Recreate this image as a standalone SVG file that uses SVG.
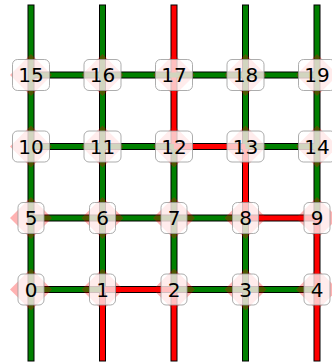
<svg xmlns="http://www.w3.org/2000/svg" width="332" height="364" viewBox="0 0 332 364">
<style>
.o{stroke:#000;stroke-width:7;fill:none}
.g{stroke:#008000;stroke-width:5;fill:none}
.r{stroke:#ff0000;stroke-width:5;fill:none}
.d{fill:#ff0000;fill-opacity:0.3}
.b{fill:#fff;fill-opacity:0.75;stroke:#999;stroke-opacity:0.8;stroke-width:1}
.t{font-family:"DejaVu Sans",sans-serif;font-size:20px;text-anchor:middle;fill:#000}
</style>
<rect width="332" height="364" fill="#fff"/>
<g id="connectors">
<g class="o">
<path d="M31,4.5V361.5M102.5,4.5V361.5M174,4.5V361.5M245.5,4.5V361.5M317,4.5V361.5"/>
<path d="M31,75H317M31,146.5H317M31,218H317M31,289.5H317"/>
</g>
<path class="g" d="M31,5.5V360.5"/>
<path class="g" d="M102.5,5.5V289.5"/>
<path class="r" d="M102.5,289.5V360.5"/>
<path class="r" d="M174,5.5V146.5"/>
<path class="g" d="M174,146.5V289.5"/>
<path class="r" d="M174,289.5V360.5"/>
<path class="g" d="M245.5,5.5V146.5"/>
<path class="r" d="M245.5,146.5V218"/>
<path class="g" d="M245.5,218V360.5"/>
<path class="g" d="M317,5.5V218"/>
<path class="r" d="M317,218V360.5"/>
<path class="g" d="M31,75H317"/>
<path class="g" d="M31,146.5H174"/>
<path class="r" d="M174,146.5H245.5"/>
<path class="g" d="M245.5,146.5H317"/>
<path class="g" d="M31,218H245.5"/>
<path class="r" d="M245.5,218H317"/>
<path class="g" d="M31,289.5H102.5"/>
<path class="r" d="M102.5,289.5H174"/>
<path class="g" d="M174,289.5H317"/>
</g>
<defs>
<path id="dia" class="d" d="M0,-21L21,0L0,21L-21,0Z"/>
</defs>
<g id="n0" transform="translate(31,289.5)"><use href="#dia"/><rect class="b" x="-13" y="-15.5" width="26" height="31" rx="5"/><text class="t" y="7.3">0</text></g>
<g id="n1" transform="translate(102.5,289.5)"><use href="#dia"/><rect class="b" x="-13" y="-15.5" width="26" height="31" rx="5"/><text class="t" y="7.3">1</text></g>
<g id="n2" transform="translate(174,289.5)"><use href="#dia"/><rect class="b" x="-13" y="-15.5" width="26" height="31" rx="5"/><text class="t" y="7.3">2</text></g>
<g id="n3" transform="translate(245.5,289.5)"><use href="#dia"/><rect class="b" x="-13" y="-15.5" width="26" height="31" rx="5"/><text class="t" y="7.3">3</text></g>
<g id="n4" transform="translate(317,289.5)"><use href="#dia"/><rect class="b" x="-13" y="-15.5" width="26" height="31" rx="5"/><text class="t" y="7.3">4</text></g>
<g id="n5" transform="translate(31,218)"><use href="#dia"/><rect class="b" x="-13" y="-15.5" width="26" height="31" rx="5"/><text class="t" y="7.3">5</text></g>
<g id="n6" transform="translate(102.5,218)"><use href="#dia"/><rect class="b" x="-13" y="-15.5" width="26" height="31" rx="5"/><text class="t" y="7.3">6</text></g>
<g id="n7" transform="translate(174,218)"><use href="#dia"/><rect class="b" x="-13" y="-15.5" width="26" height="31" rx="5"/><text class="t" y="7.3">7</text></g>
<g id="n8" transform="translate(245.5,218)"><use href="#dia"/><rect class="b" x="-13" y="-15.5" width="26" height="31" rx="5"/><text class="t" y="7.3">8</text></g>
<g id="n9" transform="translate(317,218)"><use href="#dia"/><rect class="b" x="-13" y="-15.5" width="26" height="31" rx="5"/><text class="t" y="7.3">9</text></g>
<g id="n10" transform="translate(31,146.5)"><use href="#dia"/><rect class="b" x="-18.5" y="-15.5" width="37" height="31" rx="5"/><text class="t" y="7.3">10</text></g>
<g id="n11" transform="translate(102.5,146.5)"><use href="#dia"/><rect class="b" x="-18.5" y="-15.5" width="37" height="31" rx="5"/><text class="t" y="7.3">11</text></g>
<g id="n12" transform="translate(174,146.5)"><use href="#dia"/><rect class="b" x="-18.5" y="-15.5" width="37" height="31" rx="5"/><text class="t" y="7.3">12</text></g>
<g id="n13" transform="translate(245.5,146.5)"><use href="#dia"/><rect class="b" x="-18.5" y="-15.5" width="37" height="31" rx="5"/><text class="t" y="7.3">13</text></g>
<g id="n14" transform="translate(317,146.5)"><use href="#dia"/><rect class="b" x="-18.5" y="-15.5" width="37" height="31" rx="5"/><text class="t" y="7.3">14</text></g>
<g id="n15" transform="translate(31,75)"><use href="#dia"/><rect class="b" x="-18.5" y="-15.5" width="37" height="31" rx="5"/><text class="t" y="7.3">15</text></g>
<g id="n16" transform="translate(102.5,75)"><use href="#dia"/><rect class="b" x="-18.5" y="-15.5" width="37" height="31" rx="5"/><text class="t" y="7.3">16</text></g>
<g id="n17" transform="translate(174,75)"><use href="#dia"/><rect class="b" x="-18.5" y="-15.5" width="37" height="31" rx="5"/><text class="t" y="7.3">17</text></g>
<g id="n18" transform="translate(245.5,75)"><use href="#dia"/><rect class="b" x="-18.5" y="-15.5" width="37" height="31" rx="5"/><text class="t" y="7.3">18</text></g>
<g id="n19" transform="translate(317,75)"><use href="#dia"/><rect class="b" x="-18.5" y="-15.5" width="37" height="31" rx="5"/><text class="t" y="7.3">19</text></g>
</svg>
